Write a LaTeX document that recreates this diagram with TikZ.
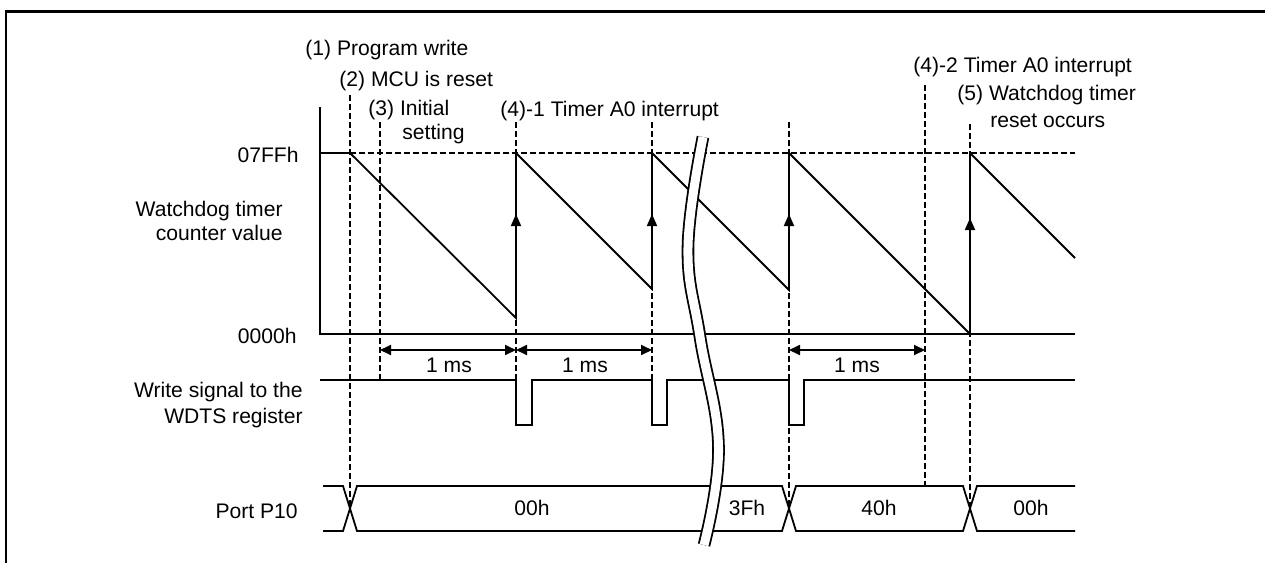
\documentclass[tikz,border=0pt]{standalone}
\usepackage{fontspec}
\setmainfont{Liberation Sans}
\usetikzlibrary{arrows.meta}

\begin{document}
\begin{tikzpicture}[x=0.5pt, y=-0.5pt,
  sig/.style={line width=0.9pt, line join=miter},
  guide/.style={line width=0.7pt, dash pattern=on 3pt off 1.5pt},
  lbl/.style={inner sep=0pt, font=\fontsize{10.55}{12.7}\selectfont},
  upmark/.style={-{Triangle[length=6pt,width=5pt]}, line width=0.9pt},
  msspan/.style={{Triangle[length=5.5pt,width=5pt]}-{Triangle[length=5.5pt,width=5pt]}, line width=0.9pt}]
\useasboundingbox (0,0) rectangle (1265,563);
\draw[line width=1.4pt] (6,563) -- (6,11.8) -- (1265,11.8);

% event labels
\node[lbl, anchor=base west] (ev1) at (305,55) {(1) Program write};
\node[lbl, anchor=base west] (ev2) at (339,86) {(2) MCU is reset};
\node[lbl, anchor=base west] (ev3) at (368,115) {(3) Initial};
\node[lbl, anchor=base west] (ev3b) at (402,139) {setting};
\node[lbl, anchor=base west] (ev41) at (500,116) {(4)-1 Timer A0 interrupt};
\node[lbl, anchor=base west] (ev42) at (913,72) {(4)-2 Timer A0 interrupt};
\node[lbl, anchor=base west] (ev5) at (957,100) {(5) Watchdog timer};
\node[lbl, anchor=base west] (ev5b) at (990,127) {reset occurs};

% row labels
\node[lbl, anchor=base east] (top) at (299,162) {07FFh};
\node[lbl, anchor=base east] (cnt) at (283,216) {Watchdog timer};
\node[lbl, anchor=base east] (cntb) at (283,240) {counter value};
\node[lbl, anchor=base east] (bot) at (297,343) {0000h};
\node[lbl, anchor=base east] (wr) at (303,397) {Write signal to the};
\node[lbl, anchor=base east] (wrb) at (303,423) {WDTS register};
\node[lbl, anchor=base east] (port) at (298,518) {Port P10};

% guides
\draw[guide] (350,153) -- (1075,153);
\draw[guide] (350,95) -- (350,507);
\draw[guide] (380,122) -- (380,380);
\draw[guide] (516,122) -- (516,380);
\draw[guide] (652,122) -- (652,380);
\draw[guide] (789,122) -- (789,507);
\draw[guide] (925,85) -- (925,486);
\draw[guide] (970,124) -- (970,507);

% counter
\draw[sig] (320,107) -- (320,334) -- (1075,334);
\draw[sig] (320,153) -- (350,153) -- (516,318) -- (516,153) -- (652,289) -- (652,153)
  -- (789,290) -- (789,153) -- (970,334) -- (970,153) -- (1075,258);
\draw[upmark] (516,232) -- (516,214);
\draw[upmark] (652,232) -- (652,214);
\draw[upmark] (789,232) -- (789,214);
\draw[upmark] (970,236) -- (970,218);

% 1 ms
\draw[msspan] (380,350) -- (516,350);
\draw[msspan] (516,350) -- (652,350);
\draw[msspan] (789,350) -- (925,350);
\node[lbl, anchor=base] (ms1) at (449,372) {1 ms};
\node[lbl, anchor=base] (ms2) at (585,372) {1 ms};
\node[lbl, anchor=base] (ms3) at (857,372) {1 ms};

% write signal
\draw[sig] (320,380) -- (516,380) -- (516,425) -- (532,425) -- (532,380) -- (652,380)
  -- (652,425) -- (667,425) -- (667,380) -- (789,380) -- (789,425) -- (804,425)
  -- (804,380) -- (1075,380);

% port
\draw[sig] (323,486) -- (343,486) -- (357,531) -- (782,531) -- (796,486) -- (963,486) -- (977,531) -- (1075,531);
\draw[sig] (323,531) -- (343,531) -- (357,486) -- (782,486) -- (796,531) -- (963,531) -- (977,486) -- (1075,486);
\node[lbl, anchor=base] (v1) at (532,515) {00h};
\node[lbl, anchor=base] (v2) at (747,515) {3Fh};
\node[lbl, anchor=base] (v3) at (879,515) {40h};
\node[lbl, anchor=base] (v4) at (1031,515) {00h};

% break
\draw[line width=0.9pt, double=white, double distance=4.5pt]
  plot[smooth, tension=0.7] coordinates {(703,137) (688,247) (700,337) (718.5,447) (704,545)};
\end{tikzpicture}
\end{document}
